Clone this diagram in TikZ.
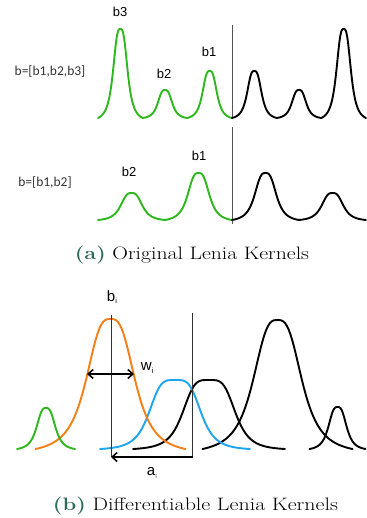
\documentclass[tikz,border=0pt]{standalone}
\usepackage{fontspec}
\usepackage{graphicx}
\newfontfamily\labsans{Liberation Sans}
\newfontfamily\calib{Carlito}
\usetikzlibrary{arrows.meta}
\definecolor{kgreen}{HTML}{2DB81E}
\definecolor{korange}{HTML}{F57F17}
\definecolor{kblue}{HTML}{1EA5F0}
\definecolor{capgreen}{HTML}{2F6B5B}
\definecolor{axisgray}{HTML}{555555}
\begin{document}
\begin{tikzpicture}[x=1pt,y=-1pt,
  declare function={
    lfa(\u)=1/(1+abs(\u*\u*\u)/0.042875);
    bumpa(\u)=(lfa(\u)-0.0411)/(1-0.0411);
    lfb(\u)=1/(1+(\u*\u*\u*\u)/0.016796);
    bumpb(\u)=(lfb(\u)-0.0165)/(1-0.0165);
  },
  kp/.style={domain=-1:1,samples=81},
  kcurve/.style={line width=1.9pt,line join=round,line cap=round},
  axisline/.style={draw=axisgray,line width=0.9pt},
  thinline/.style={draw=black!80,line width=0.8pt},
  ringlab/.style={font=\labsans\fontsize{13}{15}\selectfont,inner sep=0pt},
  veclab/.style={font=\calib\fontsize{13.5}{15}\selectfont,text=black!80,inner sep=0pt},
  captext/.style={font=\fontsize{18}{21}\selectfont,inner sep=0pt},
  parlab/.style={font=\labsans\fontsize{15}{17}\selectfont,inner sep=0pt},
  arr/.style={line width=1.6pt,-{Straight Barb[length=5pt,width=9pt]}},
  darr/.style={line width=1.6pt,{Straight Barb[length=5pt,width=9pt]}-{Straight Barb[length=5pt,width=9pt]}}
]
\useasboundingbox (0,0) rectangle (366,518);
\fill[white] (0,0) rectangle (366,518);

% ---------- (a) top row ----------
\draw[axisline] (232,25) coordinate (ta) -- (232,118) coordinate (tb);
\draw[kcurve,kgreen] plot[kp] ({120.33+22.33*\x},{118-89*bumpa(\x)})
  -- plot[kp] ({165+22.33*\x},{118-28*bumpa(\x)})
  -- plot[kp] ({209.67+22.33*\x},{118-47*bumpa(\x)});
\draw[kcurve,black] plot[kp] ({254.33+22.33*\x},{118-47*bumpa(\x)})
  -- plot[kp] ({299+22.33*\x},{118-28*bumpa(\x)})
  -- plot[kp] ({343.67+22.33*\x},{118-89*bumpa(\x)});
\node[ringlab] (lb3) at (120,12) {b3};
\node[ringlab] (lb2) at (164,74) {b2};
\node[ringlab] (lb1) at (209,52) {b1};
\node[veclab] (vec3) at (50,72) {b=[b1,b2,b3]};

% ---------- (a) bottom row ----------
\draw[axisline] (232,127) coordinate (ba) -- (232,224) coordinate (bb);
\draw[kcurve,kgreen] plot[kp] ({131.5+33.5*\x},{220-27*bumpa(\x)})
  -- plot[kp] ({198.5+33.5*\x},{220-47*bumpa(\x)});
\draw[kcurve,black] plot[kp] ({265.5+33.5*\x},{220-47*bumpa(\x)})
  -- plot[kp] ({332.5+33.5*\x},{220-27*bumpa(\x)});
\node[ringlab] (mb2) at (129,172) {b2};
\node[ringlab] (mb1) at (199,156) {b1};
\node[veclab] (vec2) at (45,183) {b=[b1,b2]};

\node[captext] (capa) at (192,255) {\resizebox{234pt}{\height}{\textcolor{capgreen}{\textbf{(a)}} Original Lenia Kernels}};

% ---------- (b) ----------
\draw[kcurve,black] plot[kp] ({209+76*\x},{449-69*bumpb(\x)});
\draw[kcurve,black] plot[kp] ({277.5+75*\x},{449-129*bumpa(\x)});
\draw[kcurve,black] plot[kp] ({337.5+28*\x},{449-42*bumpa(\x)});
\draw[kcurve,kblue] plot[kp] ({175+75*\x},{449-69*bumpb(\x)});
\draw[kcurve,korange] plot[kp] ({110.5+75*\x},{449-130*bumpa(\x)});
\draw[kcurve,kgreen] plot[kp] ({46+29*\x},{449-41*bumpa(\x)});

\draw[thinline] (111,315) coordinate (l1t) -- (111,457) coordinate (l1b);
\draw[thinline] (192.5,313) coordinate (l2t) -- (192.5,457) coordinate (l2b);

\coordinate (wl) at (87,374);
\coordinate (wr) at (134,374);
\draw[darr] (wl) -- (wr);
\draw[arr] (l2b) -- (l1b);

\node[parlab] (bi) at (112,297) {b\raisebox{-0.35ex}{\fontsize{7.5}{8}\selectfont i}};
\node[parlab] (wi) at (147,368) {w\raisebox{-0.35ex}{\fontsize{7.5}{8}\selectfont i}};
\node[parlab] (ai) at (152,473) {a\raisebox{-0.35ex}{\fontsize{7.5}{8}\selectfont\color{black!60} i}};

\node[captext] (capb) at (195.5,506) {\resizebox{285pt}{\height}{\textcolor{capgreen}{\textbf{(b)}} Differentiable Lenia Kernels}};
\end{tikzpicture}
\end{document}
